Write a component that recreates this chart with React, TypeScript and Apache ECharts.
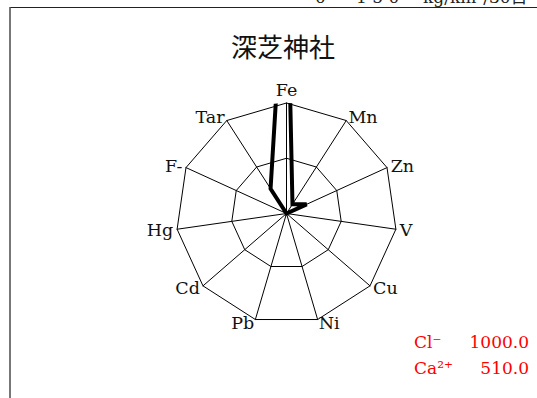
import React, { useEffect, useRef } from "react";
import * as echarts from "echarts";

const title = "深芝神社";
const categories = ["Fe", "Mn", "Zn", "V", "Cu", "Ni", "Pb", "Cd", "Hg", "F-", "Tar"];
const values = [390, 15, 30, 0, 0, 0, 0, 0, 0, 0, 40];
const scaleMax = 150;
const scaleZero = "0";
const scaleTop = "1 5 0";
const scaleUnit = "kg/km²/30日";
const ionNames = ["Cl⁻", "Ca²⁺"];
const ionValues = ["1000.0", "510.0"];

const SERIF = "DejaVu Serif";

export default function App() {
  const ref = useRef<HTMLDivElement>(null);
  useEffect(() => {
    if (!ref.current) return;
    const chart = echarts.init(ref.current, undefined, { renderer: "svg" });
    const center = [286.5, 213.5];
    const radius = 110.5;
    // radar draws counter-clockwise, so reverse order after the first
    const radarOrder = [0, ...categories.map((_, i) => i).slice(1).reverse()];
    const lineData = values.map((v, i) => [v, i]);
    lineData.push([values[0], categories.length]);

    const ionTexts: any[] = [];
    ionNames.forEach((n, i) => {
      ionTexts.push({
        type: "text",
        x: 414,
        y: 342 + i * 26,
        style: { text: n, font: `17px "${SERIF}"`, fill: "#ff0000", align: "left", verticalAlign: "middle" },
      });
      ionTexts.push({
        type: "text",
        x: 529,
        y: 342 + i * 26,
        style: { text: ionValues[i], font: `17px "${SERIF}"`, fill: "#ff0000", align: "right", verticalAlign: "middle" },
      });
    });

    chart.setOption({
      animation: false,
      backgroundColor: "#ffffff",
      radar: {
        center,
        radius,
        startAngle: 90,
        splitNumber: 2,
        shape: "polygon",
        nameGap: 4,
        axisName: { color: "#111", fontFamily: SERIF, fontSize: 17.5 },
        axisLine: { lineStyle: { color: "#000", width: 1 } },
        splitLine: { lineStyle: { color: "#000", width: 1 } },
        splitArea: { show: false },
        axisTick: { show: false },
        axisLabel: { show: false },
        indicator: radarOrder.map((i) => ({ name: categories[i], max: scaleMax, min: 0 })),
      },
      polar: { center, radius },
      angleAxis: {
        type: "value",
        min: 0,
        max: categories.length,
        startAngle: 90,
        clockwise: true,
        show: false,
        axisLine: { show: false },
        axisLabel: { show: false },
        axisTick: { show: false },
        splitLine: { show: false },
      },
      radiusAxis: {
        type: "value",
        min: 0,
        max: scaleMax,
        show: false,
        axisLine: { show: false },
        axisLabel: { show: false },
        axisTick: { show: false },
        splitLine: { show: false },
      },
      series: [
        {
          type: "line",
          coordinateSystem: "polar",
          data: lineData,
          symbol: "none",
          clip: true,
          lineStyle: { color: "#000", width: 4, join: "miter" },
        },
      ],
      graphic: [
        { type: "line", shape: { x1: 10, y1: 7.5, x2: 537, y2: 7.5 }, style: { stroke: "#222", lineWidth: 1 } },
        { type: "line", shape: { x1: 10, y1: 7, x2: 10, y2: 398 }, style: { stroke: "#555", lineWidth: 1.6 } },
        {
          type: "text",
          x: 283,
          y: 45,
          style: { text: title, font: `26px "Noto Sans CJK JP"`, fill: "#111", align: "center", verticalAlign: "middle" },
        },
        { type: "text", x: 315, y: -3, style: { text: scaleZero, font: `17px "${SERIF}"`, fill: "#222", verticalAlign: "middle" } },
        { type: "text", x: 356, y: -3, style: { text: scaleTop, font: `17px "${SERIF}"`, fill: "#222", verticalAlign: "middle" } },
        { type: "text", x: 423, y: -3, style: { text: scaleUnit, font: `17px "${SERIF}", "Noto Sans CJK JP"`, fill: "#222", verticalAlign: "middle" } },
        ...ionTexts,
      ],
    });
    return () => chart.dispose();
  }, []);
  return (
    <div
      ref={ref}
      style={{ position: "fixed", left: 0, top: 0, width: 537, height: 398 }}
    />
  );
}
